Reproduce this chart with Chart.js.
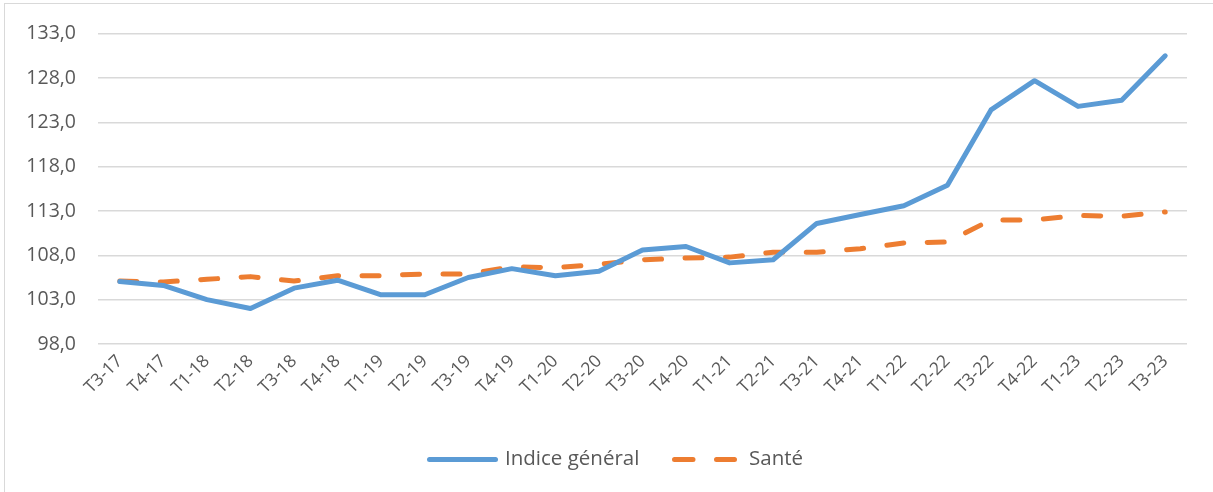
<!DOCTYPE html>
<html>
<head>
<meta charset="utf-8">
<script src="https://cdn.jsdelivr.net/npm/chart.js@4/dist/chart.umd.min.js"></script>
<style>
  html, body { margin: 0; padding: 0; background: #fff; }
  #wrap { position: relative; width: 1213px; height: 492px; }
  #frame { position: absolute; left: 4px; top: 3px; width: 1300px; height: 600px; border-left: 1px solid #D9D9D9; border-top: 1px solid #D9D9D9; }
  canvas { position: absolute; left: 0; top: 0; }
</style>
</head>
<body>
<div id="wrap">
  <div id="frame"></div>
  <canvas id="c" width="1213" height="492"></canvas>
</div>
<script>
const categories = ['T3-17','T4-17','T1-18','T2-18','T3-18','T4-18','T1-19','T2-19','T3-19','T4-19','T1-20','T2-20','T3-20','T4-20','T1-21','T2-21','T3-21','T4-21','T1-22','T2-22','T3-22','T4-22','T1-23','T2-23','T3-23'];
const indiceGeneral = [105.05,104.6,103.0,102.0,104.3,105.2,103.55,103.55,105.5,106.5,105.7,106.2,108.6,109.0,107.15,107.5,111.6,112.6,113.6,115.9,124.4,127.7,124.8,125.5,130.5];
const sante = [105.1,105.0,105.3,105.6,105.1,105.7,105.7,105.9,105.9,106.7,106.6,107.0,107.5,107.7,107.8,108.35,108.35,108.75,109.4,109.5,112.0,112.0,112.5,112.4,112.9];
const seriesNames = ['Indice général', 'Santé'];
const yMin = 98, yMax = 133, yStep = 5;

const FONT = '"Open Sans", "Noto Sans", sans-serif';
const TEXT = '#595959';
const BLUE = '#5B9BD5';
const ORANGE = '#ED7D31';

const legendPlugin = {
  id: 'customLegend',
  afterDraw(chart) {
    const ctx = chart.ctx;
    const y = 459.5;
    ctx.save();
    ctx.lineCap = 'round';
    ctx.lineWidth = 5;
    ctx.strokeStyle = BLUE;
    ctx.setLineDash([]);
    ctx.beginPath(); ctx.moveTo(429.5, y); ctx.lineTo(495.5, y); ctx.stroke();
    ctx.font = '20.5px ' + FONT;
    ctx.fillStyle = TEXT;
    ctx.textBaseline = 'middle';
    ctx.textAlign = 'left';
    ctx.fillText(seriesNames[0], 505, y);
    ctx.strokeStyle = ORANGE;
    ctx.setLineDash([18.5, 23.5]);
    ctx.beginPath(); ctx.moveTo(674.5, y); ctx.lineTo(734.5, y); ctx.stroke();
    ctx.setLineDash([]);
    ctx.fillText(seriesNames[1], 749, y);
    ctx.restore();
  }
};

new Chart(document.getElementById('c'), {
  type: 'line',
  data: {
    labels: categories,
    datasets: [
      { label: seriesNames[0], data: indiceGeneral, borderColor: BLUE, backgroundColor: BLUE,
        borderWidth: 5, pointRadius: 0, tension: 0, borderJoinStyle: 'round', borderCapStyle: 'round' },
      { label: seriesNames[1], data: sante, borderColor: ORANGE, backgroundColor: ORANGE,
        borderWidth: 5, pointRadius: 0, tension: 0, borderDash: [17, 23.5], borderCapStyle: 'round', borderJoinStyle: 'round' }
    ]
  },
  options: {
    responsive: false,
    animation: false,
    devicePixelRatio: 1,
    layout: { padding: { left: 0, right: 26, top: 32, bottom: 0 } },
    plugins: { legend: { display: false }, tooltip: { enabled: false }, title: { display: false } },
    scales: {
      x: {
        offset: true,
        grid: { display: false, drawTicks: false },
        border: { display: false },
        ticks: { color: TEXT, font: { family: FONT, size: 17.5 }, minRotation: 45, maxRotation: 45, autoSkip: false, padding: 7 },
        afterFit(s) { s.height = 148; }
      },
      y: {
        min: yMin, max: yMax,
        grid: { color: '#D9D9D9', lineWidth: 1.4, drawTicks: false },
        border: { display: false },
        ticks: { stepSize: yStep, color: TEXT, font: { family: FONT, size: 19.5 }, padding: 22,
          callback: v => v.toFixed(1).replace('.', ',') },
        afterFit(s) { s.width = 98; }
      }
    }
  },
  plugins: [legendPlugin]
});
</script>
</body>
</html>
